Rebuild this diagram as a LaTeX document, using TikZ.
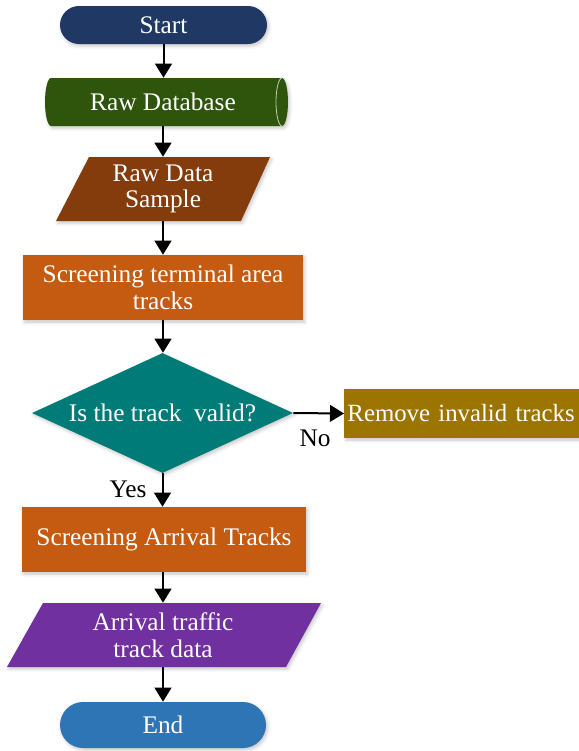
\documentclass[tikz,border=0pt]{standalone}
\usepackage{fontspec}
\setmainfont{Liberation Serif}
\usetikzlibrary{shapes.geometric,shapes.misc,arrows.meta,shadows.blur}
\definecolor{cStart}{HTML}{1F3864}
\definecolor{cDB}{HTML}{2F540C}
\definecolor{cRDS}{HTML}{843C0C}
\definecolor{cScr}{HTML}{C55A11}
\definecolor{cDia}{HTML}{007B78}
\definecolor{cRem}{HTML}{9C7500}
\definecolor{cATD}{HTML}{7030A0}
\definecolor{cEnd}{HTML}{2E75B6}
\begin{document}
\begin{tikzpicture}[x=0.75pt,y=-0.75pt,
  font=\fontsize{19}{20}\selectfont,
  shd/.style={blur shadow={shadow xshift=1.2pt,shadow yshift=-1.5pt,shadow opacity=22,shadow blur radius=2.5pt}},
  txt/.style={text=white,align=center,inner sep=0pt},
  term/.style={txt,rounded rectangle,shd},
  procbox/.style={txt,rectangle,shd},
  lbl/.style={text=black,inner sep=0pt},
  arr/.style={-{Triangle[width=12.5pt,length=10.5pt]},line width=1.5pt,black}]
\useasboundingbox (0,0) rectangle (579,751);

% Start
\node[term,fill=cStart,minimum width=155.25pt,minimum height=28.5pt] (start) at (163.5,25) {Start};

% Raw Database (cylinder)
\fill[cDB,shd] (51,78) -- (282,78) .. controls (285.3,78) and (288,88.75) .. (288,102)
  .. controls (288,115.25) and (285.3,126) .. (282,126) -- (51,126)
  .. controls (47.7,126) and (45,115.25) .. (45,102)
  .. controls (45,88.75) and (47.7,78) .. (51,78) -- cycle;
\draw[white!70!cDB,line width=0.6pt] (282,78) .. controls (278.7,78) and (276,88.75) .. (276,102)
  .. controls (276,115.25) and (278.7,126) .. (282,126);
\node[txt,minimum width=150pt,minimum height=36pt] (db) at (163,102) {Raw Database};

% Raw Data Sample (parallelogram)
\fill[cRDS,shd] (89,157) -- (270,157) -- (241,221) -- (56,221) -- cycle;
\node[txt,minimum width=120pt,minimum height=48pt] (rds) at (163,189) {Raw Data\\Sample};

% Screening terminal area tracks
\node[procbox,fill=cScr,minimum width=210pt,minimum height=48.75pt] (sta) at (163,287.5) {Screening terminal area\\tracks};

% Decision
\node[txt,diamond,aspect=2.2,fill=cDia,shd,minimum width=195.75pt,minimum height=90pt] (dia) at (162.5,413) {Is the track\ \ valid?};

% Remove invalid tracks
\node[procbox,fill=cRem,anchor=west,minimum height=36.75pt,text width=175pt,align=left,inner xsep=2.4pt,font=\fontsize{18.6}{20}\selectfont] (rem) at (344,413.5) {Remove invalid tracks};

% Screening Arrival Tracks
\node[procbox,fill=cScr,minimum width=213pt,minimum height=48.75pt] (sat) at (164,539.5) {Screening Arrival Tracks};

% Arrival traffic track data (parallelogram)
\fill[cATD,shd] (43,603) -- (321,603) -- (286,667) -- (7,667) -- cycle;
\node[txt,minimum width=150pt,minimum height=48pt] (atd) at (163,635) {Arrival traffic\\track data};

% End
\node[term,fill=cEnd,minimum width=154.5pt,minimum height=34.5pt] (end) at (163,725) {End};

% Labels
\node[lbl] (yes) at (128,489) {Yes};
\node[lbl] (no) at (315,438) {No};

% Connectors
\draw[arr] (start.south) -- (start.south |- db.north);
\draw[arr] (db.south) -- (db.south |- rds.north);
\draw[arr] (rds.south) -- (rds.south |- sta.north);
\draw[arr] (sta.south) -- (sta.south |- dia.north);
\draw[arr] (dia.east) -- (rem.west);
\draw[arr] (dia.south) -- (dia.south |- sat.north);
\draw[arr] (sat.south -| atd.south) -- (atd.north);
\draw[arr] (atd.south) -- (atd.south |- end.north);
\end{tikzpicture}
\end{document}
